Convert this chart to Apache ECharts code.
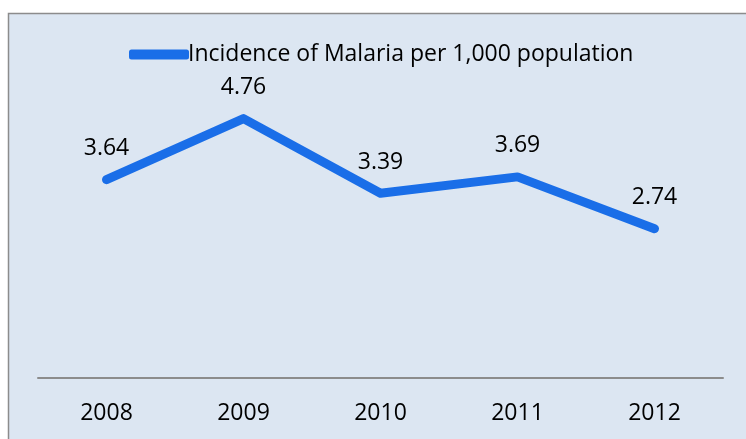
<!DOCTYPE html>
<html><head><meta charset="utf-8">
<script src="https://cdn.jsdelivr.net/npm/echarts@6/dist/echarts.min.js"></script>
<style>html,body{margin:0;padding:0;background:#fff}#c{width:746px;height:439px}</style>
</head><body><div id="c"></div>
<script>
const categories = ['2008','2009','2010','2011','2012'];
const incidence = [3.64, 4.76, 3.39, 3.69, 2.74];
const seriesName = 'Incidence of Malaria per 1,000 population';

const chart = echarts.init(document.getElementById('c'), null, {renderer:'canvas'});
const font = '"Open Sans", sans-serif';
chart.setOption({
  animation:false,
  backgroundColor:'#ffffff',
  graphic:[{type:'rect', z:-10, silent:true, shape:{x:8.5,y:13.5,width:800,height:500},
    style:{fill:'#dce6f2', stroke:'#8c8c8c', lineWidth:1.5}}],
  legend:{top:38, left:124, itemWidth:60, itemHeight:10, itemGap:0,
    icon:'roundRect',
    textStyle:{fontFamily:font, fontSize:23, color:'#000', padding:[0,0,0,-6]},
    data:[{name:seriesName, itemStyle:{color:'#1a6ee8', opacity:1}}]},
  grid:{left:38, right:23, top:51, bottom:61},
  xAxis:{type:'category', data:categories, boundaryGap:true,
    axisLine:{lineStyle:{color:'#8c8c8c', width:2}}, axisTick:{show:false},
    axisLabel:{fontFamily:font, fontSize:23, color:'#000', margin:24}},
  yAxis:{type:'value', min:0, max:6, show:false, splitLine:{show:false}},
  series:[{name:seriesName, type:'line', data:incidence, symbol:'circle', symbolSize:1, showSymbol:true,
    lineStyle:{color:'#1a6ee8', width:9, cap:'round', join:'round'},
    itemStyle:{color:'transparent', borderWidth:0},
    label:{show:true, position:'top', distance:19, fontFamily:font, fontSize:23, color:'#000',
      formatter:p=>p.value.toFixed(2)}}]
});
</script></body></html>
